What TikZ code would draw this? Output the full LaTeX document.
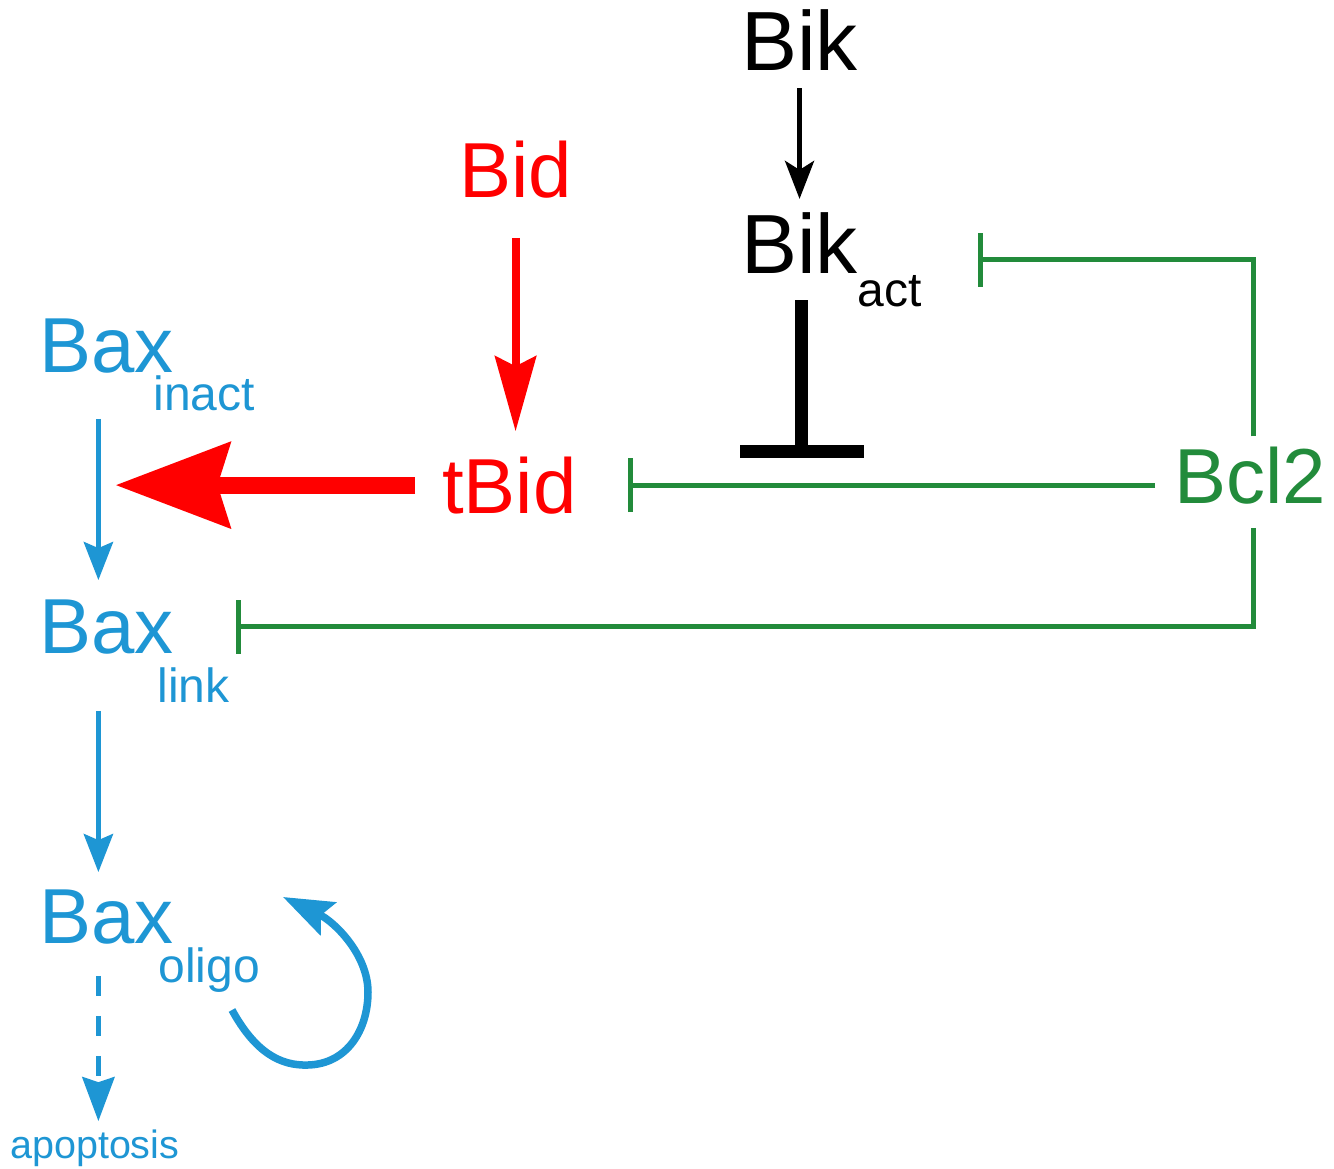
\documentclass[tikz,border=0pt]{standalone}
\usepackage{fontspec}
\setmainfont{Liberation Sans}
\usetikzlibrary{arrows.meta}

\definecolor{baxblue}{RGB}{30,150,212}
\definecolor{bclgreen}{RGB}{34,139,59}

% lowered index after a name, no width of its own
\newcommand{\subtxt}[3]{\rlap{\hspace{#1}\smash{\raisebox{#2}{\fontsize{48}{50}\selectfont #3}}}}

\begin{document}
\begin{tikzpicture}[x=1pt, y=-1pt,
    every node/.style={inner sep=0pt, anchor=base west},
    big/.style={font=\fontsize{78}{80}\selectfont},
    bik/.style={font=\fontsize{84}{86}\selectfont},
    blkarrow/.style={line width=5pt, -{Stealth[length=38pt, width=29pt, inset=9pt]}},
    redarrow/.style={red, line width=8pt, -{Stealth[length=75pt, width=41pt, inset=10pt]}},
    redbig/.style={red, line width=17pt, -{Stealth[length=114pt, width=84pt, inset=12pt]}},
    bluearrow/.style={baxblue, line width=5.5pt, -{Stealth[length=38pt, width=29pt, inset=6pt]}},
    inhib/.style={bclgreen, line width=5pt, -{Bar[width=54pt]}}]
    \useasboundingbox (0,0) rectangle (1334,1169);

    \node[bik] (bik) at (741,71) {Bik};
    \node[bik] (bikact) at (741,273) {Bik\subtxt{0pt}{-33pt}{act}};
    \node[big, red] (bid) at (459,198) {Bid};
    \node[big, red] (tbid) at (442,513) {tBid};
    \node[big, bclgreen] (bcl2) at (1174,503) {Bcl2};
    \node[big, baxblue] (baxinact) at (39,372) {Bax\subtxt{-20pt}{-38pt}{inact}};
    \node[big, baxblue] (baxlink) at (39,653) {Bax\subtxt{-16pt}{-49pt}{link}};
    \node[big, baxblue] (baxoligo) at (39,943) {Bax\subtxt{-15pt}{-39pt}{oligo}};
    \node[baxblue, font=\fontsize{39.5}{42}\selectfont] (apoptosis) at (10,1158) {apoptosis};

    % Bax chain
    \draw[bluearrow, shorten <=46pt, shorten >=19pt] ([xshift=-8pt]baxinact.south) -- coordinate[pos=0.5] (baxstep) ([xshift=-8pt]baxlink.north);
    \draw[bluearrow, shorten <=57pt, shorten >=17pt] ([xshift=-8pt]baxlink.south) -- ([xshift=-8pt]baxoligo.north);
    \draw[bluearrow, dash pattern=on 20pt off 20pt, -{Stealth[length=44pt, width=32pt, inset=5pt]}, shorten <=32pt, shorten >=8pt]
        ([xshift=-8pt]baxoligo.south) -- ([xshift=-8pt]baxoligo.south |- apoptosis.north);
    \draw[baxblue, line width=7.5pt, -{Stealth[length=50pt, width=36pt, inset=8pt]}]
        (232,1010) .. controls (255,1052) and (280,1066) .. (308,1065)
        .. controls (347,1064) and (368,1030) .. (368,992)
        .. controls (368,955) and (335,922) .. (283,897);

    % activators
    \draw[blkarrow, shorten <=17pt, shorten >=13pt] (bik.south) -- (bik.south |- bikact.north);
    \draw[redarrow, shorten <=39pt, shorten >=25pt] (bid.south) -- (bid.south |- tbid.north);
    \draw[redbig, shorten <=27pt, shorten >=17pt] (tbid.west) -- (tbid.west -| baxstep);

    % Bcl2 inhibitions
    \draw[inhib, shorten <=19pt, shorten >=51pt] (tbid.east -| bcl2.west) -- coordinate[pos=0.624] (bclstep) (tbid.east);
    \draw[inhib, shorten <=10pt, shorten >=120pt] ([xshift=3pt]bcl2.north) |- ([yshift=-17pt]bikact.east);
    \draw[inhib, shorten <=24pt, shorten >=62pt] ([xshift=3pt]bcl2.south) |- (baxlink.east);
    \draw[line width=13pt, -{Bar[width=124pt]}, shorten <=27pt, shorten >=27pt] ([xshift=2pt]bikact.south) -- ([xshift=2pt]bikact.south |- bclstep);
\end{tikzpicture}
\end{document}
